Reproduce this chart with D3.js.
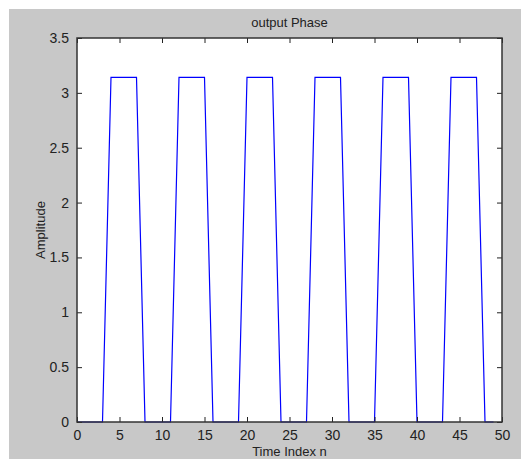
<!DOCTYPE html>
<html>
<head>
<meta charset="utf-8">
<script src="https://cdn.jsdelivr.net/npm/d3@7"></script>
<style>
  html, body { margin: 0; padding: 0; background: #ffffff; }
  svg { display: block; }
  text { font-family: "Liberation Sans Narrow", "Liberation Sans", Arial, sans-serif; fill: #222; }
</style>
</head>
<body>
<svg id="chart" width="521" height="459"></svg>
<script>
// Time index n (0..49)
const timeIndex = [
  0, 1, 2, 3, 4, 5, 6, 7, 8, 9,
  10, 11, 12, 13, 14, 15, 16, 17, 18, 19,
  20, 21, 22, 23, 24, 25, 26, 27, 28, 29,
  30, 31, 32, 33, 34, 35, 36, 37, 38, 39,
  40, 41, 42, 43, 44, 45, 46, 47, 48, 49
];
// Phase of the output sequence (radians)
const outputPhase = [
  0, 0, 0, 0, 3.1416, 3.1416, 3.1416, 3.1416,
  0, 0, 0, 0, 3.1416, 3.1416, 3.1416, 3.1416,
  0, 0, 0, 0, 3.1416, 3.1416, 3.1416, 3.1416,
  0, 0, 0, 0, 3.1416, 3.1416, 3.1416, 3.1416,
  0, 0, 0, 0, 3.1416, 3.1416, 3.1416, 3.1416,
  0, 0, 0, 0, 3.1416, 3.1416, 3.1416, 3.1416,
  0, 0
];
const xTicks = [0, 5, 10, 15, 20, 25, 30, 35, 40, 45, 50];
const yTicks = [0, 0.5, 1, 1.5, 2, 2.5, 3, 3.5];

const svg = d3.select("#chart");

// figure background
svg.append("rect")
  .attr("x", 9).attr("y", 9)
  .attr("width", 512).attr("height", 450)
  .attr("fill", "#c8c8c8");

const plot = { left: 77, right: 502, top: 38, bottom: 422 };

const x = d3.scaleLinear().domain([0, 50]).range([plot.left, plot.right]);
const y = d3.scaleLinear().domain([0, 3.5]).range([plot.bottom, plot.top]);

// axes area
svg.append("rect")
  .attr("x", plot.left).attr("y", plot.top)
  .attr("width", plot.right - plot.left)
  .attr("height", plot.bottom - plot.top)
  .attr("fill", "#ffffff");

// data line
const line = d3.line()
  .x((d, i) => x(timeIndex[i]))
  .y(d => y(d));

svg.append("path")
  .datum(outputPhase)
  .attr("d", line)
  .attr("fill", "none")
  .attr("stroke", "#0000ff")
  .attr("stroke-width", 1.2);

const tickLen = 5;

// bottom axis
const xAxis = d3.axisBottom(x).tickValues(xTicks).tickFormat(d3.format("d"))
  .tickSizeInner(-tickLen).tickSizeOuter(0).tickPadding(8);
const gx = svg.append("g").attr("transform", `translate(0,${plot.bottom})`).call(xAxis);

// top axis (ticks only)
const gxTop = svg.append("g").attr("transform", `translate(0,${plot.top})`)
  .call(d3.axisTop(x).tickValues(xTicks).tickFormat("").tickSizeInner(-tickLen).tickSizeOuter(0));

// left axis
const yAxis = d3.axisLeft(y).tickValues(yTicks).tickFormat(d => String(d))
  .tickSizeInner(-tickLen).tickSizeOuter(0).tickPadding(8);
const gy = svg.append("g").attr("transform", `translate(${plot.left},0)`).call(yAxis);

// right axis (ticks only)
const gyRight = svg.append("g").attr("transform", `translate(${plot.right},0)`)
  .call(d3.axisRight(y).tickValues(yTicks).tickFormat("").tickSizeInner(-tickLen).tickSizeOuter(0));

[gx, gxTop, gy, gyRight].forEach(g => {
  g.select(".domain").remove();
  g.selectAll(".tick line").attr("stroke", "#222").attr("stroke-width", 1);
  g.selectAll(".tick text").attr("font-size", 14)
    .style("font-family", '"Liberation Sans Narrow", "Liberation Sans", Arial, sans-serif')
    .attr("fill", "#333");
});

// axes box
svg.append("rect")
  .attr("x", plot.left).attr("y", plot.top)
  .attr("width", plot.right - plot.left)
  .attr("height", plot.bottom - plot.top)
  .attr("fill", "none")
  .attr("stroke", "#333")
  .attr("stroke-width", 1.5);

// title and axis labels
svg.append("text")
  .attr("x", (plot.left + plot.right) / 2).attr("y", 27)
  .attr("text-anchor", "middle").attr("font-size", 13)
  .text("output Phase");

svg.append("text")
  .attr("x", (plot.left + plot.right) / 2).attr("y", 456)
  .attr("text-anchor", "middle").attr("font-size", 13)
  .text("Time Index n");

svg.append("text")
  .attr("transform", `translate(45,${(plot.top + plot.bottom) / 2}) rotate(-90)`)
  .attr("text-anchor", "middle").attr("font-size", 13)
  .text("Amplitude");
</script>
</body>
</html>
